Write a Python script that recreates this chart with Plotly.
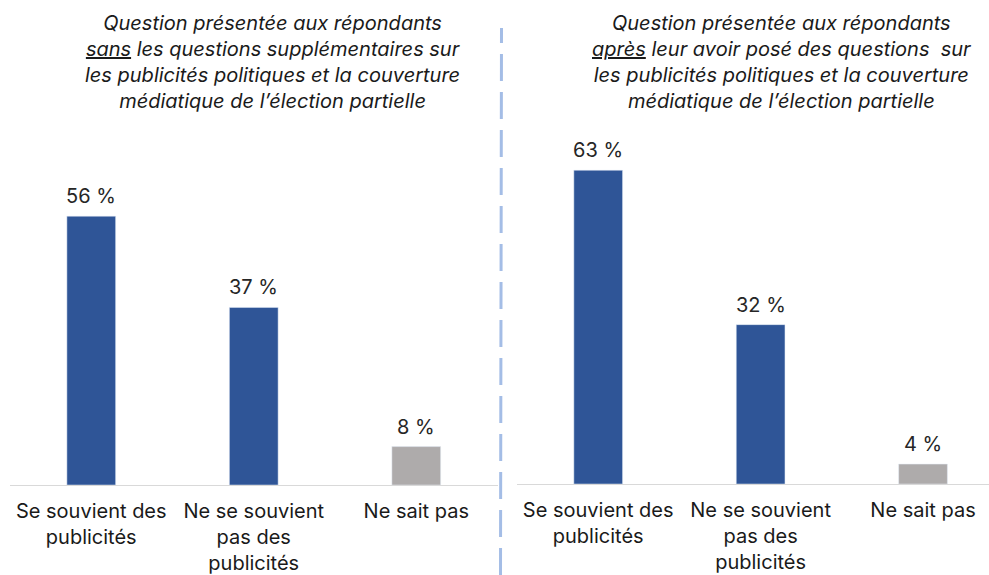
import plotly.graph_objects as go

categories = ["Se souvient des<br>publicités", "Ne se souvient<br>pas des<br>publicités", "Ne sait pas"]
values_sans = [56, 37, 8]
values_apres = [63, 32, 4]
bar_colors = ["#2F5597", "#2F5597", "#AEABAB"]

title_left = ("<i>Question présentée aux répondants<br><u>sans</u> les questions supplémentaires sur<br>"
              "les publicités politiques et la couverture<br>médiatique de l’élection partielle</i>")
title_right = ("<i>Question présentée aux répondants<br><u>après</u> leur avoir posé des questions  sur<br>"
               "les publicités politiques et la couverture<br>médiatique de l’élection partielle</i>")

FONT = "Inter"
W, H = 989, 575

fig = go.Figure()
fig.add_trace(go.Bar(x=categories, y=values_sans, marker_color=bar_colors, width=0.3,
                     xaxis="x", yaxis="y", showlegend=False, hoverinfo="skip"))
fig.add_trace(go.Bar(x=categories, y=values_apres, marker_color=bar_colors, width=0.3,
                     xaxis="x2", yaxis="y2", showlegend=False, hoverinfo="skip"))

for xr, yr, vals in (("x", "y", values_sans), ("x2", "y2", values_apres)):
    for c, v in zip(categories, vals):
        fig.add_annotation(x=c, y=v, xref=xr, yref=yr, text=f"{v} %", showarrow=False,
                           yanchor="bottom", yshift=6,
                           font=dict(size=20, color="#262626", family=FONT))

ax_common = dict(showgrid=False, zeroline=False, showline=True, linecolor="#D9D9D9", linewidth=1,
                 automargin=False,
                 ticks="", tickfont=dict(size=20, color="#1a1a1a", family=FONT), ticklabelstandoff=8)
fig.update_layout(
    width=W, height=H, margin=dict(l=0, r=0, t=0, b=0, autoexpand=False),
    paper_bgcolor="white", plot_bgcolor="white",
    xaxis=dict(domain=[10 / W, 497.5 / W], range=[-0.5, 2.5], **ax_common),
    xaxis2=dict(domain=[517 / W, 1], range=[-0.5, 2.5 - 15.25 / 162.5], anchor="y2", **ax_common),
    yaxis=dict(domain=[90 / H, 1], range=[0, 485 / 4.8], visible=False, automargin=False),
    yaxis2=dict(domain=[91 / H, 1], range=[0, 484 / 4.98], visible=False, anchor="x2", automargin=False),
    font=dict(family=FONT),
)
fig.add_annotation(text=title_left, xref="paper", yref="paper", x=272 / W, y=1, yanchor="top",
                   xanchor="center", showarrow=False, yshift=-9,
                   font=dict(size=20, color="#1a1a1a", family=FONT))
fig.add_annotation(text=title_right, xref="paper", yref="paper", x=781 / W, y=1, yanchor="top",
                   xanchor="center", showarrow=False, yshift=-9,
                   font=dict(size=20, color="#1a1a1a", family=FONT))
fig.add_shape(type="line", xref="paper", yref="paper", x0=500.5 / W, x1=501.5 / W, y0=0, y1=1 - 28 / H,
              line=dict(color="#A4BDE6", width=3, dash="27px,11px"))

fig.write_html("out.html", config={"displayModeBar": False},
               post_script="document.body.style.margin='0';")
